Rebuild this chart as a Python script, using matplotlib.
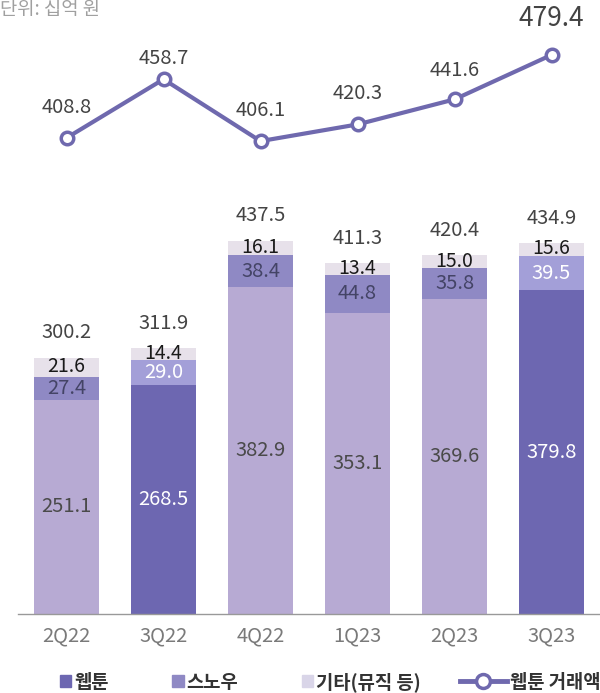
import numpy as np
import matplotlib.pyplot as plt
from matplotlib.patches import Patch
from matplotlib.lines import Line2D

plt.rcParams['font.family'] = ['Noto Sans CJK KR', 'DejaVu Sans']

quarters = ['2Q22', '3Q22', '4Q22', '1Q23', '2Q23', '3Q23']
webtoon = [251.1, 268.5, 382.9, 353.1, 369.6, 379.8]
snow = [27.4, 29.0, 38.4, 44.8, 35.8, 39.5]
other = [21.6, 14.4, 16.1, 13.4, 15.0, 15.6]
totals = [300.2, 311.9, 437.5, 411.3, 420.4, 434.9]
gmv = [408.8, 458.7, 406.1, 420.3, 441.6, 479.4]
highlight = [False, True, False, False, False, True]

# colours
c_web = '#b7aad3'
c_web_hl = '#6d67b1'
c_snow = '#8f89c4'
c_snow_hl = '#a39fd8'
c_other = '#e7e1ea'
c_line = '#6f69ae'

fig = plt.figure(figsize=(6, 6.93), dpi=100)
ax = fig.add_axes([0.03, 0.114, 0.97, 0.886])
x = np.arange(len(quarters))
w = 0.67

web_col = [c_web_hl if h else c_web for h in highlight]
snow_col = [c_snow_hl if h else c_snow for h in highlight]
ax.bar(x, webtoon, w, color=web_col)
b2 = np.array(webtoon)
ax.bar(x, snow, w, bottom=b2, color=snow_col)
b3 = b2 + np.array(snow)
ax.bar(x, other, w, bottom=b3, color=c_other)

fs = 14.5
for i in range(len(x)):
    txt_col = 'white' if highlight[i] else '#4a4a4a'
    ax.text(x[i], webtoon[i] / 2, f'{webtoon[i]:.1f}', ha='center', va='center',
            fontsize=fs, color=txt_col)
    ax.text(x[i], b2[i] + snow[i] / 2, f'{snow[i]:.1f}', ha='center', va='center',
            fontsize=fs, color='white' if highlight[i] else '#444466')
    ax.text(x[i], b3[i] + other[i] / 2 + 1, f'{other[i]:.1f}', ha='center', va='center',
            fontsize=14, color='#1a1a1a', fontweight='medium')
    ax.annotate(f'{totals[i]:.1f}', (x[i], totals[i]), xytext=(0, 18),
                textcoords='offset points', ha='center', va='center',
                fontsize=fs, color='#444444')

ax.set_xlim(-0.5, len(x) - 0.5)
ax.set_ylim(0, 720)
for s in ['top', 'right', 'left']:
    ax.spines[s].set_visible(False)
ax.spines['bottom'].set_color('#999999')
ax.spines['bottom'].set_linewidth(1)
ax.set_yticks([])
ax.set_xticks(x)
ax.set_xticklabels(quarters, fontsize=fs, color='#7a7a7a')
ax.tick_params(axis='x', length=0, pad=8)

# transaction volume line on its own scale
ax2 = ax.twinx()
ax2.set_ylim(4.0, 526.1)
ax2.plot(x, gmv, color=c_line, lw=3, marker='o', ms=9, mfc='white',
         mec=c_line, mew=2.5, zorder=5)
label_dy = [22, 15, 22, 22, 21, 26]
for i in range(len(x)):
    big = i == len(x) - 1
    ax2.annotate(f'{gmv[i]:.1f}', (x[i], gmv[i]), xytext=(0, label_dy[i]),
                 textcoords='offset points', ha='center', va='center',
                 fontsize=19 if big else fs, color='#444444')
ax2.axis('off')

fig.text(0.0, 1 - 9 / 693, '단위: 십억 원', fontsize=13.5, color='#a0a0a0',
         ha='left', va='center')

# legend: square patches and the line entry are laid out separately
leg_y = 1 - 682 / 693
patches = [
    Patch(color=c_web_hl, label='웹툰'),
    Patch(color=c_snow, label='스노우'),
    Patch(color='#d9d5e8', label='기타(뮤직 등)'),
]
leg_font = {'size': 13.5, 'weight': 'bold'}
fig.legend(handles=patches, loc='center left', bbox_to_anchor=(0.1, leg_y),
           ncol=3, frameon=False, prop=leg_font, handlelength=0.6,
           handleheight=0.6, handletextpad=0.15, columnspacing=3.4,
           labelcolor='#333333', borderaxespad=0, borderpad=0)
line_h = Line2D([], [], color=c_line, lw=3.5, marker='o', ms=10, mfc='white',
                mec=c_line, mew=2.5, label='웹툰 거래액')
fig.legend(handles=[line_h], loc='center right', bbox_to_anchor=(1.0, leg_y),
           frameon=False, prop=leg_font, handlelength=2.5, handletextpad=0.15,
           labelcolor='#333333', borderaxespad=0, borderpad=0)

fig.savefig('out.png', dpi=100)
